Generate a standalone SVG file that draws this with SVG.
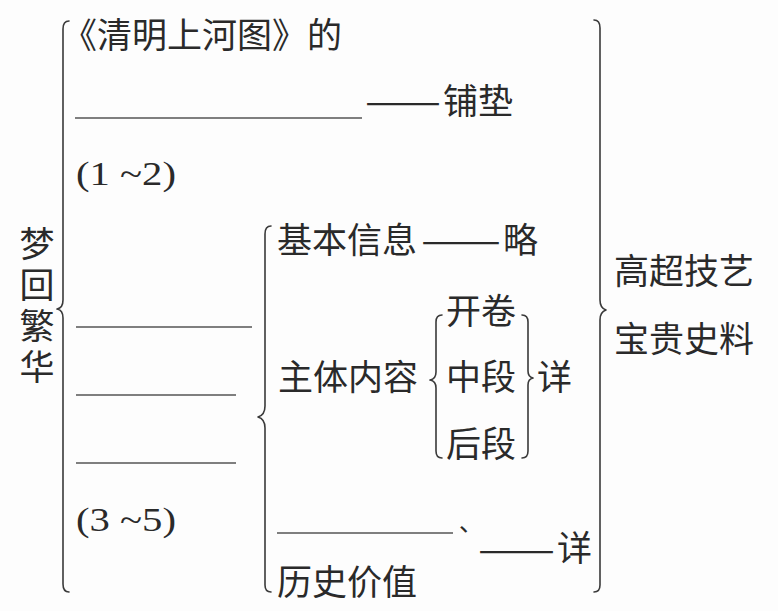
<svg xmlns="http://www.w3.org/2000/svg" width="778" height="611" viewBox="0 0 778 611">
<style>
.t{font-family:"Noto Sans CJK SC","Noto Sans",sans-serif;font-size:35px;fill:#2a2a2a}
.n{font-family:"Liberation Serif",serif;font-size:34px;fill:#2a2a2a}
.b{fill:none;stroke:#3a3a3a;stroke-width:1.6;stroke-linecap:round;stroke-linejoin:round}
.u{stroke:#555;stroke-width:1.4}
.v{writing-mode:vertical-rl;letter-spacing:6px}
</style>
<rect width="778" height="611" fill="#fdfdfd"/>
<g id="connectors">
<path class="b" d="M69 21 Q63 21 63 29 L63 300 Q63 308 57 309 Q63 310 63 318 L63 584 Q63 592 69 592"/>
<path class="b" d="M271 226 Q265 226 265 234 L265 406 Q265 415 258 417 Q265 419 265 428 L265 585 Q265 592 271 592"/>
<path class="b" d="M594 20 Q600 20 600 28 L600 300 Q600 308 606 310 Q600 312 600 320 L600 585 Q600 592 594 592"/>
<path class="b" d="M442 315 Q436 315 436 322 L436 372 Q436 379 430 380 Q436 381 436 388 L436 451 Q436 458 442 458"/>
<path class="b" d="M522 315 Q528 315 528 322 L528 371 Q528 377 533 378 Q528 379 528 385 L528 451 Q528 458 522 458"/>
</g>
<g id="root">
<text class="t v" x="37" y="226">梦回繁华</text>
</g>
<g id="intro">
<text class="t" x="62" y="48">《清明上河图》的</text>
<line class="u" x1="75" y1="118" x2="362" y2="118"/>
<text class="t" x="365" y="114" textLength="76" lengthAdjust="spacingAndGlyphs">——</text>
<text class="t" x="443" y="114">铺垫</text>
<text class="n" x="76" y="185" textLength="100" lengthAdjust="spacingAndGlyphs">(1 ~2)</text>
</g>
<g id="body">
<line class="u" x1="76" y1="327" x2="252" y2="327"/>
<line class="u" x1="76" y1="395" x2="236" y2="395"/>
<line class="u" x1="76" y1="463" x2="236" y2="463"/>
<text class="n" x="76" y="531" textLength="100" lengthAdjust="spacingAndGlyphs">(3 ~5)</text>
</g>
<g id="basic">
<text class="t" x="277" y="253">基本信息</text>
<text class="t" x="421" y="253" textLength="80" lengthAdjust="spacingAndGlyphs">——</text>
<text class="t" x="503" y="253">略</text>
</g>
<g id="main">
<text class="t" x="278" y="390">主体内容</text>
<text class="t" x="446" y="324">开卷</text>
<text class="t" x="446" y="390">中段</text>
<text class="t" x="446" y="457">后段</text>
<text class="t" x="537" y="390">详</text>
</g>
<g id="history">
<line class="u" x1="277" y1="533" x2="453" y2="533"/>
<text class="t" x="459" y="531" style="font-size:24px">、</text>
<text class="t" x="478" y="562" textLength="77" lengthAdjust="spacingAndGlyphs">——</text>
<text class="t" x="557" y="561">详</text>
<text class="t" x="277" y="595">历史价值</text>
</g>
<g id="result">
<text class="t" x="614" y="284">高超技艺</text>
<text class="t" x="614" y="352">宝贵史料</text>
</g>
</svg>
